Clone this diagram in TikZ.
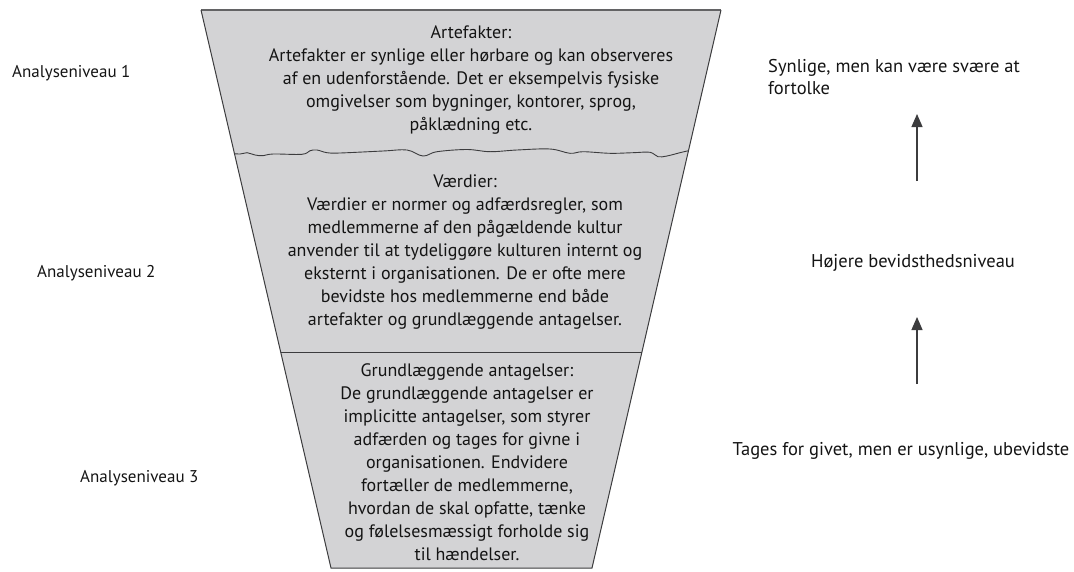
\documentclass[tikz,border=0pt]{standalone}
\usepackage{fontspec}
\setmainfont{PT Sans}
\usetikzlibrary{arrows.meta}
\definecolor{funnelfill}{RGB}{211,211,213}
\definecolor{edgegray}{RGB}{60,60,62}
\definecolor{textgray}{RGB}{20,20,20}
\tikzset{
  boxtext/.style={align=center, inner sep=0pt, text=textgray,
    font=\fontsize{18}{23}\selectfont},
  levellabel/.style={inner sep=0pt, text=textgray,
    font=\fontsize{17}{20}\selectfont},
  sidelabel/.style={inner sep=0pt, text=textgray,
    font=\fontsize{18.5}{22}\selectfont},
  edge/.style={draw=edgegray, line width=1pt},
  uparrow/.style={draw=edgegray, line width=1.2pt,
    -{Triangle[length=13pt,width=11pt]}}
}
\begin{document}
\begin{tikzpicture}[x=1pt,y=-1pt]
\useasboundingbox (0,0) rectangle (1074,571);

% funnel body
\path[fill=funnelfill] (201,10) -- (721,10) -- (592,568) -- (331,568) -- cycle;
\begin{scope}
  \clip (201,10) -- (721,10) -- (592,568) -- (331,568) -- cycle;
  % torn border between artefacts and values
  \draw[edge, line width=0.9pt] plot[smooth, tension=0.6] coordinates {
    (225,153) (240,154) (247,152.7) (255,155) (263,155.7) (273,154)
    (302,154.3) (310,150.7) (317,150) (327,152.7) (340,153)
    (383,151) (407,150) (423,156) (437,151.7) (467,149.5) (490,151.7)
    (517,150) (550,149) (570,153.3) (583,151.7) (610,153.3) (633,152.7)
    (650,152.3) (658,156.7) (667,156) (680,152.7) (690,150.5) (700,150)};
  % straight border between values and basic assumptions
  \draw[edge] (270,352) -- (655,352);
\end{scope}
\draw[edge, draw=edgegray!80, line width=1.6pt] (201,10) -- (721,10);
\draw[edge] (201,10) -- (331,568) -- (592,568) -- (721,10);

% funnel texts
\node[boxtext] (artefakter) at (471,80) {Artefakter:\\
  Artefakter er synlige eller hørbare og kan observeres\\
  af en udenforstående. Det er eksempelvis fysiske\\
  omgivelser som bygninger, kontorer, sprog,\\
  påklædning etc.};
\node[boxtext] (vaerdier) at (465,252) {Værdier:\\
  Værdier er normer og adfærdsregler, som\\
  medlemmerne af den pågældende kultur\\
  anvender til at tydeliggøre kulturen internt og\\
  eksternt i organisationen. De er ofte mere\\
  bevidste hos medlemmerne end både\\
  artefakter og grundlæggende antagelser.};
\node[boxtext] (antagelser) at (467,462) {Grundlæggende antagelser:\\
  De grundlæggende antagelser er\\
  implicitte antagelser, som styrer\\
  adfærden og tages for givne i\\
  organisationen. Endvidere\\
  fortæller de medlemmerne,\\
  hvordan de skal opfatte, tænke\\
  og følelsesmæssigt forholde sig\\
  til hændelser.};

% analysis levels
\node[levellabel, anchor=west] (niveau1) at (12,73) {Analyseniveau 1};
\node[levellabel, anchor=west] (niveau2) at (37,273) {Analyseniveau 2};
\node[levellabel, anchor=west] (niveau3) at (80,478) {Analyseniveau 3};

% awareness scale
\node[sidelabel, anchor=north west, align=left] (synlige) at (768,59)
  {Synlige, men kan være svære at\\fortolke};
\node[sidelabel] (hoejere) at (913,263) {Højere bevidsthedsniveau};
\node[sidelabel] (tages) at (901,451) {Tages for givet, men er usynlige, ubevidste};

\coordinate (a1tail) at (917,181);
\coordinate (a1tip) at (917,114);
\coordinate (a2tail) at (917,384);
\coordinate (a2tip) at (917,317);
\draw[uparrow] (a1tail) -- (a1tip);
\draw[uparrow] (a2tail) -- (a2tip);
\end{tikzpicture}
\end{document}
